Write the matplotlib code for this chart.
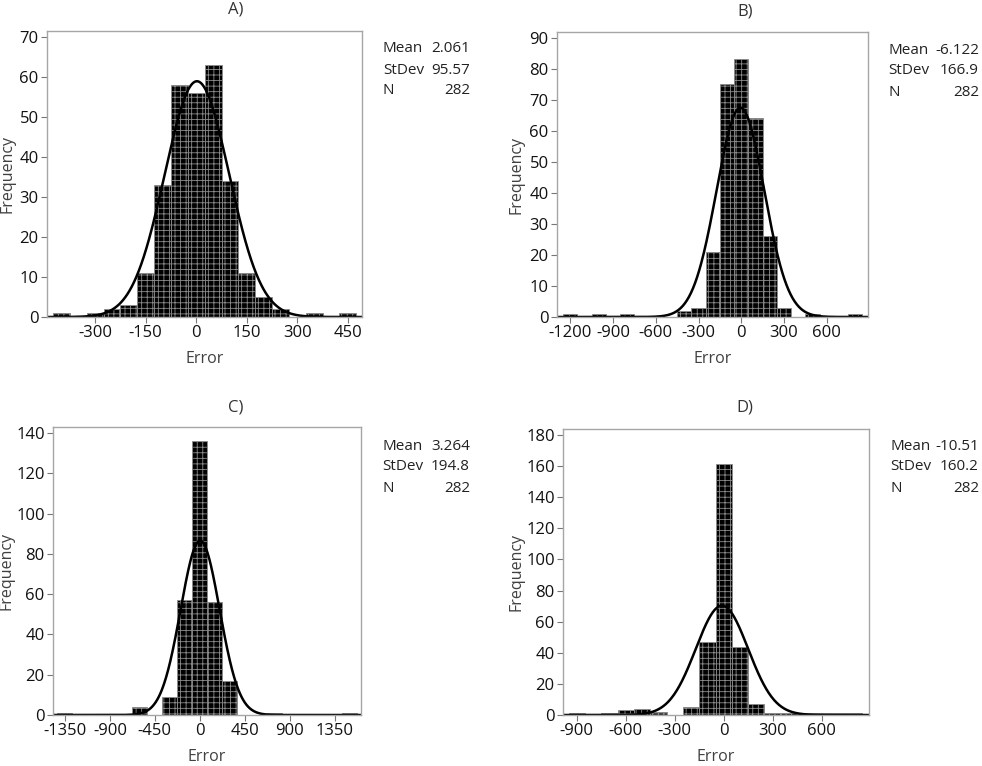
import numpy as np
import matplotlib
matplotlib.use("Agg")
import matplotlib.pyplot as plt

plt.rcParams['font.family'] = ['Open Sans', 'DejaVu Sans']
plt.rcParams['hatch.linewidth'] = 0.6
plt.rcParams['axes.unicode_minus'] = False

# panel A
a_centers = [-400, -300, -250, -200, -150, -100, -50, 0, 50, 100, 150, 200, 250, 350, 450]
a_counts = [1, 1, 2, 3, 11, 33, 58, 56, 63, 34, 11, 5, 2, 1, 1]
a_width = 50
a_stats = (2.061, 95.57, 282)

# panel B
b_centers = [-1200, -1000, -800, -400, -300, -200, -100, 0, 100, 200, 300, 500, 800]
b_counts = [1, 1, 1, 2, 3, 21, 75, 83, 64, 26, 3, 1, 1]
b_width = 100
b_stats = (-6.122, 166.9, 282)

# panel C
c_centers = [-1350, -600, -300, -150, 0, 150, 300, 750, 1500]
c_counts = [1, 4, 9, 57, 136, 56, 17, 1, 1]
c_width = 150
c_stats = (3.264, 194.8, 282)

# panel D
d_centers = [-900, -700, -600, -500, -400, -200, -100, 0, 100, 200, 300, 400, 500, 600, 700, 800]
d_counts = [1, 1, 3, 4, 2, 5, 47, 161, 44, 7, 1, 1, 1, 1, 1, 1]
d_width = 100
d_stats = (-10.51, 160.2, 282)

W, H = 982, 766
fig = plt.figure(figsize=(W / 100, H / 100), dpi=100)

panels = [
    # title, centers, counts, width, stats, axes box (l, t, r, b) px, xlim, ylim, xticks, yticks,
    # title x, stats x, stats y, ylabel offset px
    ("A)", a_centers, a_counts, a_width, a_stats, (47, 31, 362, 317), (-443, 492), (0, 71.4),
     [-300, -150, 0, 150, 300, 450], range(0, 71, 10), 236, (383, 470), 49, 32),
    ("B)", b_centers, b_counts, b_width, b_stats, (557, 32, 868, 317), (-1293, 889), (0, 91.8),
     [-1200, -900, -600, -300, 0, 300, 600], range(0, 91, 10), 745, (888, 979), 50, 32),
    ("C)", c_centers, c_counts, c_width, c_stats, (53, 427, 361, 715), (-1470, 1614), (0, 143.1),
     [-1350, -900, -450, 0, 450, 900, 1350], range(0, 141, 20), 236, (382, 470), 446, 38),
    ("D)", d_centers, d_counts, d_width, d_stats, (563, 429, 869, 715), (-984, 890), (0, 183.8),
     [-900, -600, -300, 0, 300, 600], range(0, 181, 20), 745, (890, 979), 446, 38),
]

for (title, centers, counts, width, stats, box, xlim, ylim, xt, yt, tx, sx, sy, yoff) in panels:
    l, t, r, b = box
    ax = fig.add_axes([l / W, 1 - b / H, (r - l) / W, (b - t) / H])
    ax.bar(centers, counts, width=width, color='black', edgecolor='#8c8c8c',
           linewidth=0.6, hatch='+++')
    mean, sd, n = stats
    xs = np.linspace(xlim[0], xlim[1], 600)
    ys = n * width / (sd * np.sqrt(2 * np.pi)) * np.exp(-0.5 * ((xs - mean) / sd) ** 2)
    ax.plot(xs, ys, color='black', lw=1.8)
    ax.set_xlim(*xlim)
    ax.set_ylim(*ylim)
    ax.set_xticks(xt)
    ax.set_yticks(list(yt))
    ax.tick_params(labelsize=12, length=4, width=0.8, color='#777777', labelcolor='#111111', pad=2)
    for s in ax.spines.values():
        s.set_color('#a6a6a6')
        s.set_linewidth(1.0)
    ax.set_ylabel('Frequency', fontsize=11.5, color='#404040')
    ax.set_xlabel('Error', fontsize=11.5, color='#404040')
    ax.yaxis.set_label_coords(-yoff / (r - l), 0.5)
    ax.xaxis.set_label_coords(0.5, -34 / (b - t))

    fig.text(tx / W, 1 - (sy - 39) / H, title, ha='center', va='center', fontsize=12, color='#333333')
    labels = ['Mean', 'StDev', 'N']
    vals = [f"{mean}", f"{sd}", f"{n}"]
    for i in range(3):
        yy = 1 - (sy + i * 21) / H
        fig.text(sx[0] / W, yy, labels[i], ha='left', va='center', fontsize=11, color='#222222')
        fig.text(sx[1] / W, yy, vals[i], ha='right', va='center', fontsize=11, color='#222222')

fig.savefig('out.png', dpi=100, facecolor='white')
